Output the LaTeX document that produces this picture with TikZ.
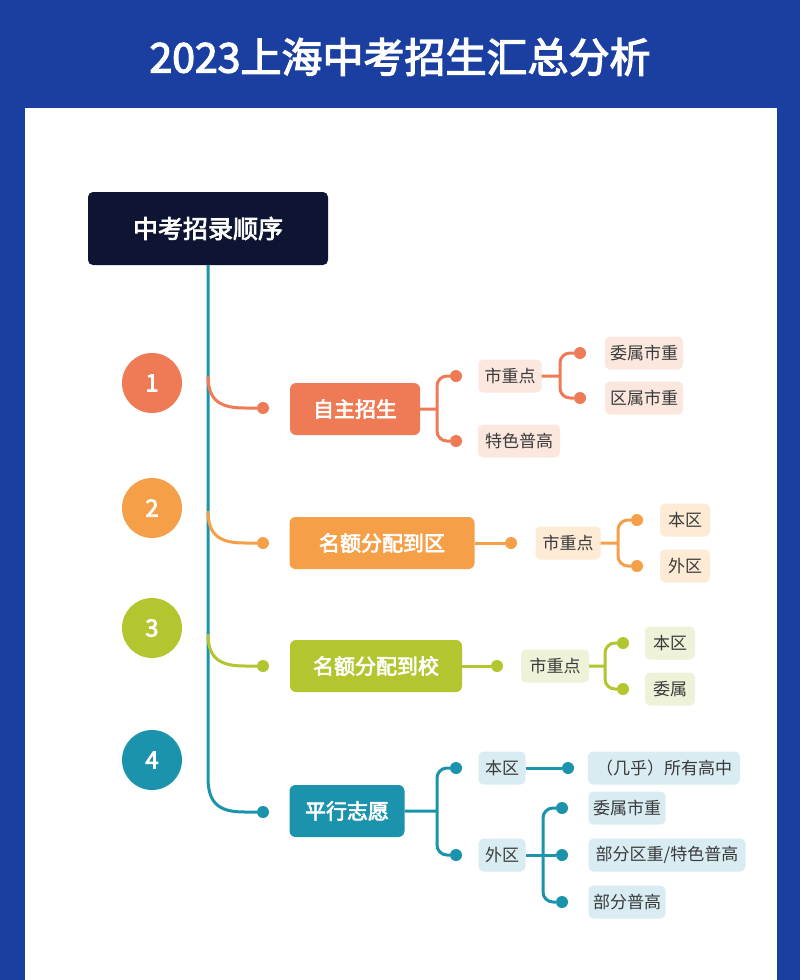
\documentclass[tikz,border=0pt]{standalone}
\usepackage{fontspec}
\setmainfont{Noto Sans CJK SC}[AutoFakeBold=3]
\definecolor{bgblue}{HTML}{1A3FA0}
\definecolor{navy}{HTML}{0D1533}
\definecolor{ca}{HTML}{EE7B55}\definecolor{la}{HTML}{FBE7DE}
\definecolor{cb}{HTML}{F5A048}\definecolor{lb}{HTML}{FDEBD6}
\definecolor{cc}{HTML}{B3C52F}\definecolor{lc}{HTML}{EEF2D8}
\definecolor{cd}{HTML}{1B93AD}\definecolor{ld}{HTML}{D8ECF2}
\definecolor{txt}{HTML}{3A3A3A}
\begin{document}
\begin{tikzpicture}[x=1pt,y=-1pt,
  num/.style={circle,minimum size=60pt,inner sep=0pt,text=white,font=\fontsize{24}{28}\selectfont\bfseries},
  lvone/.style={rounded corners=6pt,minimum height=52pt,inner sep=0pt,text=white,font=\fontsize{21}{25}\selectfont\bfseries},
  leaf/.style={rounded corners=5pt,minimum height=33pt,inner sep=0pt,text=txt,font=\fontsize{17}{20}\selectfont},
  dotn/.style={circle,minimum size=12pt,inner sep=0pt},
  conn/.style={line width=3pt},
]
\fill[bgblue] (0,0) rectangle (800,980);
\fill[white] (25,108) rectangle (777,980);
\node[text=white,font=\fontsize{41}{46}\selectfont\bfseries] (title) at (400,57) {2023上海中考招生汇总分析};
\node[fill=navy,rounded corners=5pt,minimum width=240pt,minimum height=73pt,text=white,font=\fontsize{25}{30}\selectfont\bfseries] (main) at (208,228.5) {中考招录顺序};
% circles
\node[num,fill=ca] (n1) at (152,383) {1};
\node[num,fill=cb] (n2) at (152,508) {2};
\node[num,fill=cc] (n3) at (152,628) {3};
\node[num,fill=cd] (n4) at (152,760) {4};
% level one
\node[lvone,fill=ca,minimum width=130pt] (a) at (355,409) {自主招生};
\node[lvone,fill=cb,minimum width=185pt] (b) at (382,543) {名额分配到区};
\node[lvone,fill=cc,minimum width=172pt] (c) at (376,666) {名额分配到校};
\node[lvone,fill=cd,minimum width=115pt] (d) at (347,811) {平行志愿};
% dots at left of level one
\node[dotn,fill=ca] (da) at (263,408) {};
\node[dotn,fill=cb] (db) at (263,543) {};
\node[dotn,fill=cc] (dc) at (263,666) {};
\node[dotn,fill=cd] (dd) at (263,812) {};
\coordinate (va) at (208,376);
\coordinate (vb) at (208,511);
\coordinate (vc) at (208,634);
\coordinate (vd) at (208,778);
\draw[conn,cd] (main.south) -- (vd) .. controls (208,806) and (222,812) .. (245,812) -- (dd);
\draw[conn,ca] (va) .. controls (208,402) and (222,408) .. (245,408) -- (da);
\draw[conn,cb] (vb) .. controls (208,537) and (222,543) .. (245,543) -- (db);
\draw[conn,cc] (vc) .. controls (208,660) and (222,666) .. (245,666) -- (dc);
% branch 1
\node[leaf,fill=la,minimum width=63pt] (a1) at (510,376) {市重点};
\node[leaf,fill=la,minimum width=82pt] (a2) at (519,441) {特色普高};
\node[leaf,fill=la,minimum width=78pt] (a11) at (644,353) {委属市重};
\node[leaf,fill=la,minimum width=78pt] (a12) at (644,398) {区属市重};
\node[dotn,fill=ca] (pa1) at (456,376) {};
\node[dotn,fill=ca] (pa2) at (456,441) {};
\node[dotn,fill=ca] (pa11) at (580,353) {};
\node[dotn,fill=ca] (pa12) at (580,398) {};
\draw[conn,ca,rounded corners=10pt] (a.east) -- (437,409) (pa1) -- (437,376) -- (437,441) -- (pa2);
\draw[conn,ca,rounded corners=10pt] (a1.east) -- (560,376) (pa11) -- (560,353) -- (560,398) -- (pa12);
% branch 2
\node[dotn,fill=cb] (pb) at (511,543) {};
\node[leaf,fill=lb,minimum width=65pt] (b1) at (568,543) {市重点};
\node[leaf,fill=lb,minimum width=50pt] (b11) at (685,520) {本区};
\node[leaf,fill=lb,minimum width=50pt] (b12) at (685,566) {外区};
\node[dotn,fill=cb] (pb11) at (637,520) {};
\node[dotn,fill=cb] (pb12) at (637,566) {};
\draw[conn,cb] (b.east) -- (pb);
\draw[conn,cb,rounded corners=10pt] (b1.east) -- (618,543) (pb11) -- (618,520) -- (618,566) -- (pb12);
% branch 3
\node[dotn,fill=cc] (pc) at (497,666) {};
\node[leaf,fill=lc,minimum width=68pt] (c1) at (555,666) {市重点};
\node[leaf,fill=lc,minimum width=50pt] (c11) at (670,643) {本区};
\node[leaf,fill=lc,minimum width=50pt] (c12) at (670,689) {委属};
\node[dotn,fill=cc] (pc11) at (623,643) {};
\node[dotn,fill=cc] (pc12) at (623,689) {};
\draw[conn,cc] (c.east) -- (pc);
\draw[conn,cc,rounded corners=10pt] (c1.east) -- (605,666) (pc11) -- (605,643) -- (605,689) -- (pc12);
% branch 4
\node[leaf,fill=ld,minimum width=47pt] (d1) at (502,768) {本区};
\node[leaf,fill=ld,minimum width=47pt] (d2) at (502,855) {外区};
\node[dotn,fill=cd] (pd1) at (456,768) {};
\node[dotn,fill=cd] (pd2) at (456,855) {};
\draw[conn,cd,rounded corners=10pt] (d.east) -- (437,811) (pd1) -- (437,768) -- (437,855) -- (pd2);
\node[dotn,fill=cd] (pd11) at (568,768) {};
\node[leaf,fill=ld,minimum width=152pt] (d11) at (664,768) {（几乎）所有高中};
\draw[conn,cd] (d1.east) -- (pd11);
\node[leaf,fill=ld,minimum width=77pt] (d21) at (627,808) {委属市重};
\node[leaf,fill=ld,minimum width=157pt] (d22) at (667,855) {部分区重/特色普高};
\node[leaf,fill=ld,minimum width=77pt] (d23) at (627,902) {部分普高};
\node[dotn,fill=cd] (pd21) at (562,808) {};
\node[dotn,fill=cd] (pd22) at (562,855) {};
\node[dotn,fill=cd] (pd23) at (562,902) {};
\draw[conn,cd,rounded corners=10pt] (pd21) -- (543,808) -- (543,902) -- (pd23);
\draw[conn,cd] (d2.east) -- (pd22);
\end{tikzpicture}
\end{document}
